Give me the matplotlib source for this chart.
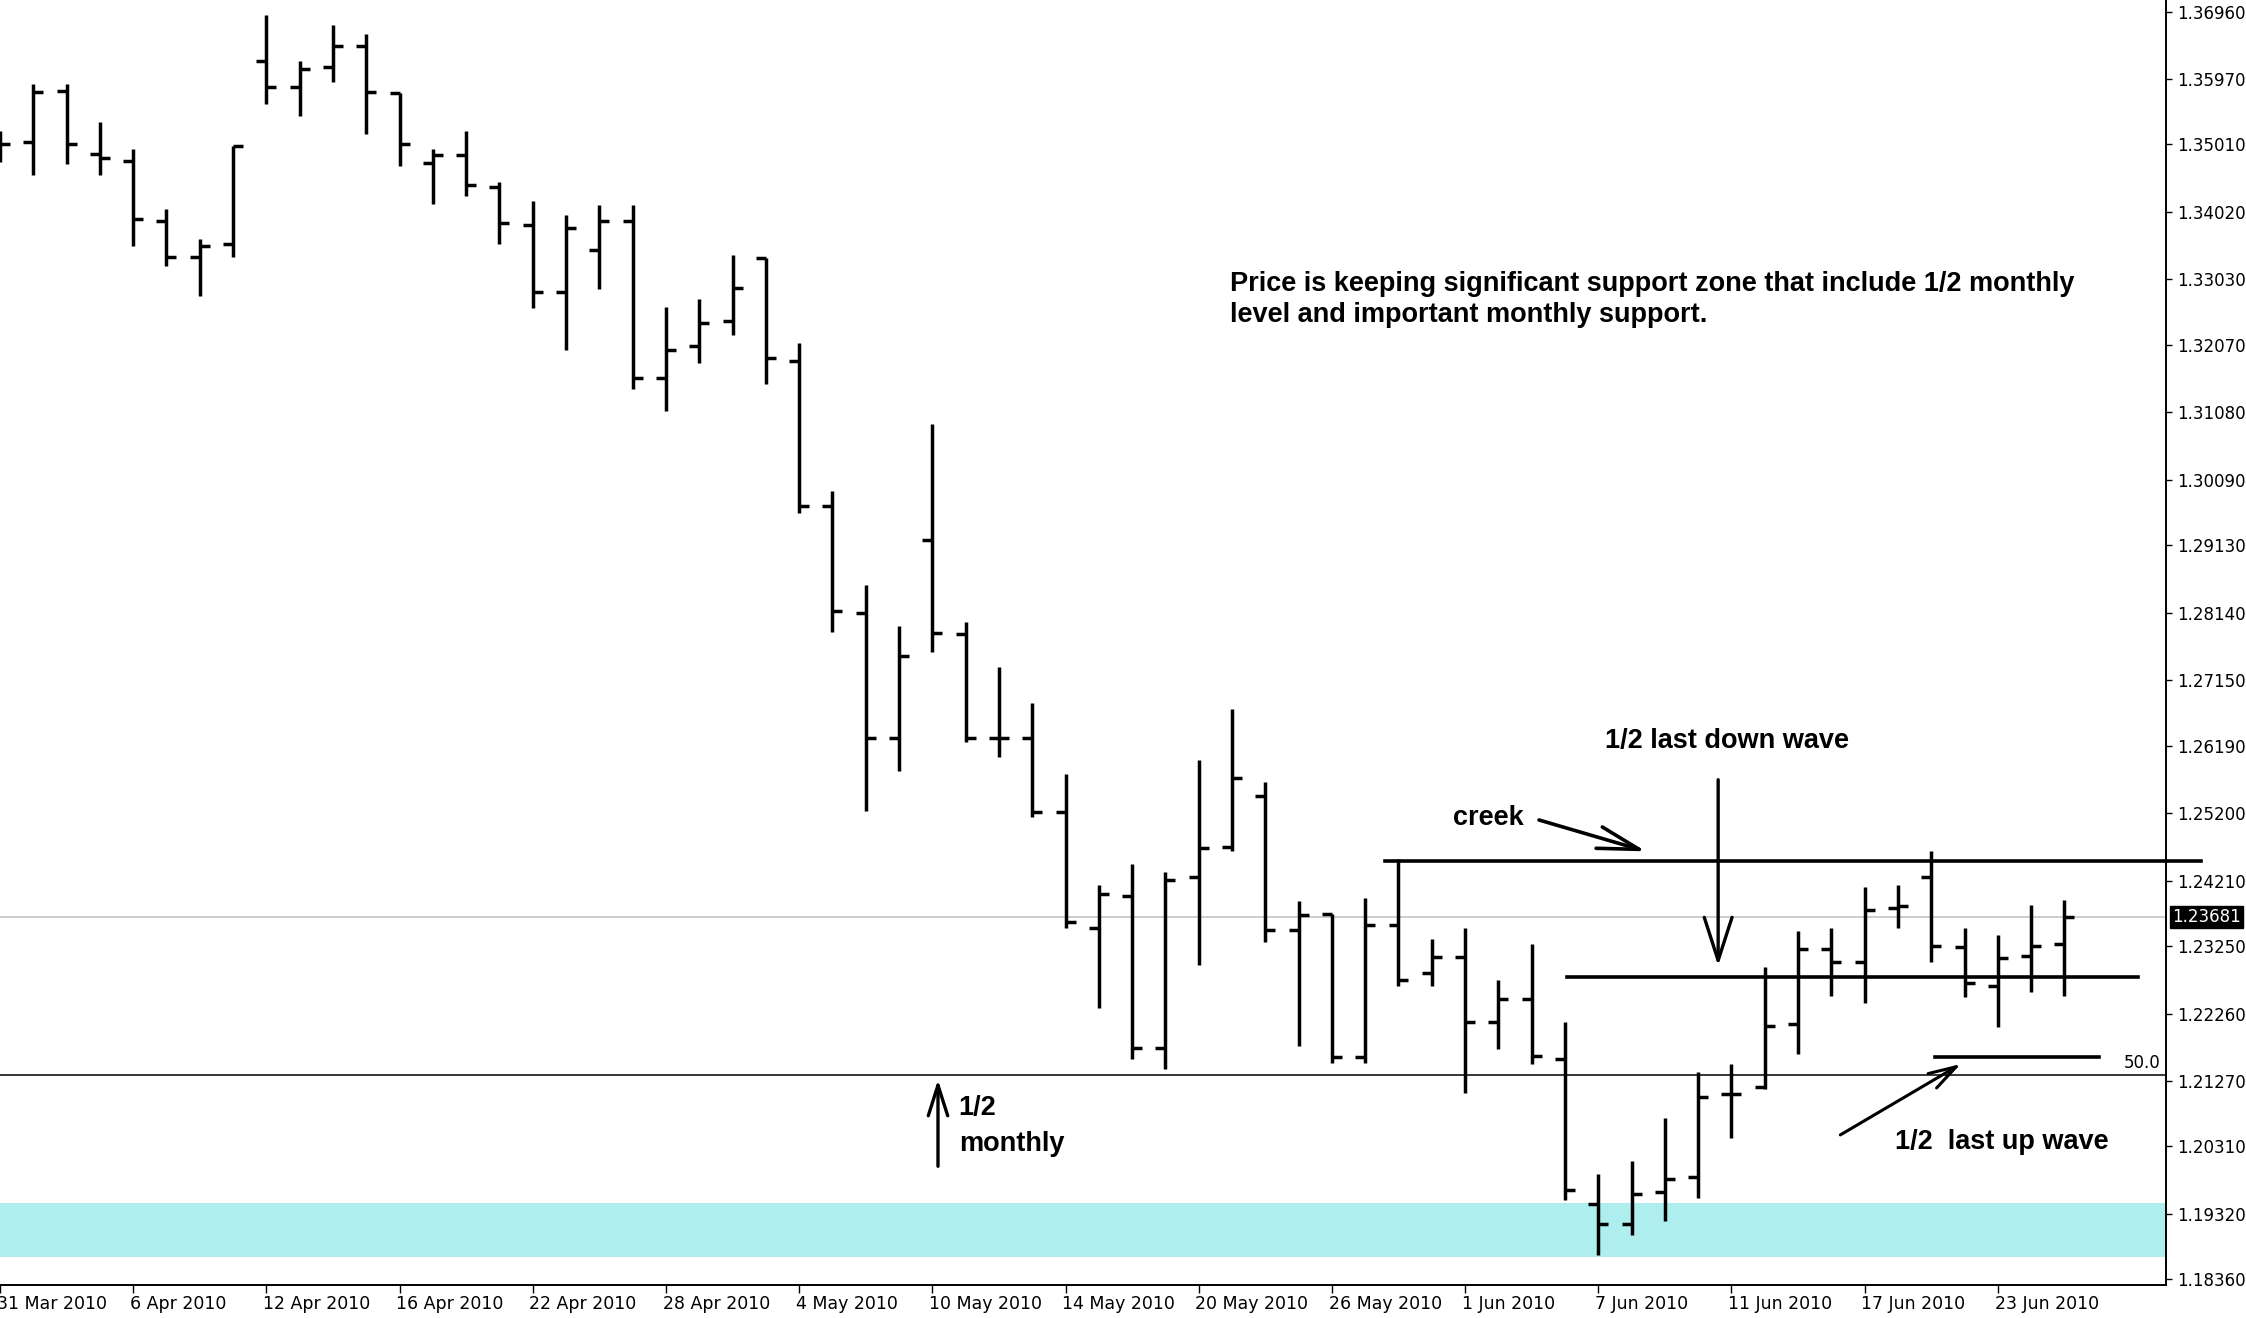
import numpy as np
import pandas as pd
import matplotlib
matplotlib.use("Agg")
import matplotlib.pyplot as plt

plt.rcParams["font.family"] = ["DejaVu Sans"]

# daily EURUSD bars, 31 Mar 2010 .. 25 Jun 2010
dates = pd.bdate_range("2010-03-31", "2010-06-25")

opens = [1.3490, 1.3505, 1.3580, 1.3487, 1.3477, 1.3389, 1.3336, 1.3355, 1.3624, 1.3585,
         1.3615, 1.3646, 1.3576, 1.3474, 1.3486, 1.3438, 1.3383, 1.3284, 1.3346, 1.3389,
         1.3159, 1.3205, 1.3242, 1.3334, 1.3183, 1.2970, 1.2814, 1.2630, 1.2921, 1.2783,
         1.2630, 1.2630, 1.2522, 1.2352, 1.2399, 1.2175, 1.2426, 1.2471, 1.2545, 1.2349,
         1.2372, 1.2163, 1.2356, 1.2285, 1.2309, 1.2214, 1.2247, 1.2160, 1.1946, 1.1918,
         1.1964, 1.1986, 1.2108, 1.2119, 1.2211, 1.2320, 1.2301, 1.2381, 1.2426, 1.2323,
         1.2267, 1.2310, 1.2328]
highs = [1.3520, 1.3590, 1.3590, 1.3534, 1.3494, 1.3406, 1.3363, 1.3498, 1.3691, 1.3623,
         1.3676, 1.3663, 1.3577, 1.3494, 1.3520, 1.3446, 1.3418, 1.3397, 1.3412, 1.3412,
         1.3262, 1.3274, 1.3339, 1.3335, 1.3210, 1.2993, 1.2855, 1.2794, 1.3091, 1.2800,
         1.2735, 1.2682, 1.2577, 1.2415, 1.2445, 1.2433, 1.2598, 1.2673, 1.2565, 1.2391,
         1.2372, 1.2396, 1.2453, 1.2335, 1.2351, 1.2275, 1.2328, 1.2214, 1.1990, 1.2009,
         1.2073, 1.2141, 1.2152, 1.2295, 1.2347, 1.2352, 1.2411, 1.2415, 1.2465, 1.2351,
         1.2341, 1.2385, 1.2393]
lows = [1.3475, 1.3456, 1.3472, 1.3456, 1.3352, 1.3322, 1.3279, 1.3336, 1.3560, 1.3542,
        1.3592, 1.3517, 1.3469, 1.3414, 1.3425, 1.3355, 1.3261, 1.3199, 1.3289, 1.3142,
        1.3110, 1.3181, 1.3221, 1.3150, 1.2961, 1.2786, 1.2523, 1.2582, 1.2756, 1.2625,
        1.2603, 1.2515, 1.2352, 1.2234, 1.2159, 1.2145, 1.2297, 1.2464, 1.2331, 1.2179,
        1.2154, 1.2154, 1.2267, 1.2267, 1.2110, 1.2174, 1.2152, 1.1952, 1.1872, 1.1901,
        1.1921, 1.1956, 1.2044, 1.2115, 1.2167, 1.2252, 1.2241, 1.2351, 1.2301, 1.2250,
        1.2206, 1.2258, 1.2252]
closes = [1.3502, 1.3578, 1.3502, 1.3481, 1.3392, 1.3336, 1.3352, 1.3498, 1.3585, 1.3612,
          1.3646, 1.3578, 1.3502, 1.3486, 1.3441, 1.3386, 1.3284, 1.3379, 1.3389, 1.3159,
          1.3199, 1.3239, 1.3291, 1.3187, 1.2970, 1.2817, 1.2630, 1.2750, 1.2785, 1.2630,
          1.2630, 1.2522, 1.2361, 1.2401, 1.2175, 1.2422, 1.2469, 1.2572, 1.2349, 1.2371,
          1.2163, 1.2356, 1.2275, 1.2309, 1.2214, 1.2248, 1.2164, 1.1967, 1.1918, 1.1961,
          1.1983, 1.2104, 1.2108, 1.2208, 1.2320, 1.2301, 1.2378, 1.2384, 1.2325, 1.2271,
          1.2307, 1.2325, 1.23681]

price_ticks = [1.36960, 1.35970, 1.35010, 1.34020, 1.33030, 1.32070, 1.31080, 1.30090,
               1.29130, 1.28140, 1.27150, 1.26190, 1.25200, 1.24210, 1.23250, 1.22260,
               1.21270, 1.20310, 1.19320, 1.18360]
last_price = 1.23681

# drawn levels
creek_level = 1.2450
half_down_level = 1.2279
half_monthly_level = 1.2136
half_up_level = 1.2162
zone_low, zone_high = 1.1869, 1.1948

W, H = 2246, 1318
fig = plt.figure(figsize=(W / 100, H / 100), dpi=100)
ax = fig.add_axes([0, 33 / H, 2166 / W, 1285 / H])

x = np.arange(len(opens))
tick_w = 0.3
bar_lw = 2.5

ax.axhspan(zone_low, zone_high, color="#AFEEEE", lw=0, zorder=0)
ax.axhline(last_price, color="#C0C0C0", lw=1.1, zorder=1)
ax.axhline(half_monthly_level, color="black", lw=1.1, zorder=1)

ax.vlines(x, lows, highs, color="black", lw=bar_lw, zorder=3)
ax.hlines(opens, x - tick_w, x, color="black", lw=bar_lw, zorder=3)
ax.hlines(closes, x, x + tick_w, color="black", lw=bar_lw, zorder=3)

ax.set_xlim(0.102, 65.05)
ax.set_ylim(1.18278, 1.37129)

# axes frame like the terminal chart
for s in ["top", "left"]:
    ax.spines[s].set_visible(False)
for s in ["right", "bottom"]:
    ax.spines[s].set_linewidth(1.4)
ax.yaxis.tick_right()
ax.set_yticks(price_ticks)
ax.set_yticklabels([f"{v:.5f}" for v in price_ticks])
ax.tick_params(axis="y", direction="out", length=4, width=1, pad=4, labelsize=12)

tick_idx = list(range(0, len(dates), 4))
ax.set_xticks(tick_idx)
ax.set_xticklabels([])
ax.tick_params(axis="x", direction="out", length=6, width=1)
for i in tick_idx:
    ax.text(i - 0.1, -0.008, f"{dates[i].day} {dates[i]:%b %Y}", transform=ax.get_xaxis_transform(),
            ha="left", va="top", fontsize=12.5, clip_on=False)

# current price marker
ax.text(1.003, last_price, "1.23681", transform=ax.get_yaxis_transform(), ha="left", va="center",
        fontsize=12, color="white", clip_on=False,
        bbox=dict(facecolor="black", edgecolor="black", pad=1.5))

# drawn objects
ax.plot([41.6, 66.1], [creek_level] * 2, color="black", lw=2.6, clip_on=False, zorder=4)
ax.plot([47.06, 64.2], [half_down_level] * 2, color="black", lw=2.6, zorder=4)
ax.plot([58.12, 63.04], [half_up_level] * 2, color="black", lw=2.6, zorder=4)
ax.text(64.88, 1.2153, "50.0", ha="right", va="center", fontsize=12)

bold = dict(family="Liberation Sans", weight="bold", fontsize=19.5, color="black")
ax.text(36.95, 1.3274, "Price is keeping significant support zone that include 1/2 monthly\n"
        "level and important monthly support.", ha="left", va="center", linespacing=1.25, **bold)
ax.text(48.2, 1.2626, "1/2 last down wave", ha="left", va="center", **bold)
ax.text(43.64, 1.2513, "creek", ha="left", va="center", **bold)
ax.text(56.9, 1.2038, "1/2  last up wave", ha="left", va="center", **bold)
ax.text(28.79, 1.2088, "1/2", ha="left", va="center", **bold)
ax.text(28.79, 1.2035, "monthly", ha="left", va="center", **bold)


def arrow(x0, y0, x1, y1, hl, hw, lw):
    ax.annotate("", xy=(x1, y1), xytext=(x0, y0), zorder=5,
                arrowprops=dict(arrowstyle=f"->,head_length={hl},head_width={hw}",
                                mutation_scale=1, lw=lw, color="black",
                                shrinkA=0, shrinkB=0))


arrow(46.22, 1.2510, 49.43, 1.2464, 30, 8, 2.6)
arrow(51.6, 1.2569, 51.6, 1.2296, 31, 10, 2.4)
arrow(55.27, 1.2048, 58.89, 1.2152, 20, 6, 2.2)
arrow(28.17, 1.2002, 28.17, 1.2129, 22, 7, 2.4)

fig.savefig("out.png", dpi=100, facecolor="white")
